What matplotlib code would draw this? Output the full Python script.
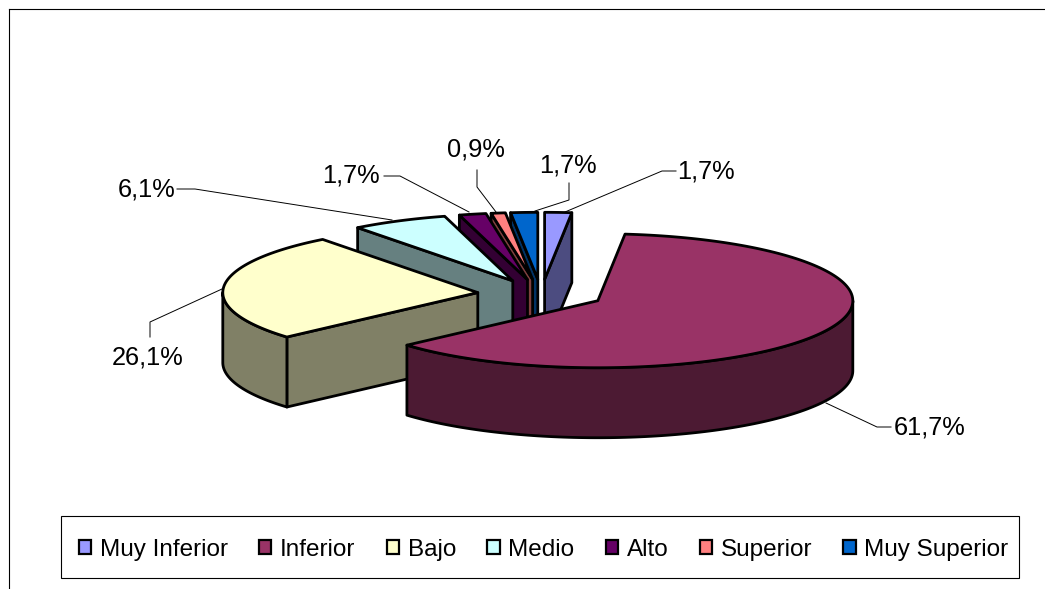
import numpy as np
import matplotlib
matplotlib.use("Agg")
import matplotlib.pyplot as plt
from matplotlib.patches import Polygon, Patch, Rectangle

plt.rcParams['font.family'] = ['Liberation Sans', 'DejaVu Sans']

categories = ["Muy Inferior", "Inferior", "Bajo", "Medio", "Alto", "Superior", "Muy Superior"]
values = [1.7, 61.7, 26.1, 6.1, 1.7, 0.9, 1.7]
labels = ["1,7%", "61,7%", "26,1%", "6,1%", "1,7%", "0,9%", "1,7%"]
top_colors = ["#9999FF", "#993366", "#FFFFCC", "#CCFFFF", "#660066", "#FF8080", "#0066CC"]
side_colors = ["#4C4C80", "#4C1A33", "#808066", "#668080", "#330033", "#804040", "#003366"]

# layout (pixels)
W, H = 1045, 589
CX, CY = 541.2, 294.0
RX, RY = 255.0, 67.0
DEPTH = 70.0
EXPLODE_X, EXPLODE_Y = 63.7, 14.7
DRAW_ORDER = [0, 6, 5, 4, 3, 2, 1]
LW = 2.0
label_pos = [(677, 172), (894, 427), (112, 358), (118, 190), (322, 176), (447, 150), (539, 165)]
leaders = [
    [(676, 171), (662, 171), (565, 212)],
    [(826, 403), (877, 427), (891, 427)],
    [(222, 289), (150, 322), (150, 337)],
    [(177, 189), (195, 189), (392, 220)],
    [(384, 176), (400, 176), (469, 212)],
    [(477, 170), (477, 187), (496, 212)],
    [(569, 183), (569, 200), (535, 211)],
]

fig = plt.figure(figsize=(W / 100, H / 100), dpi=100)
ax = fig.add_axes([0, 0, 1, 1])
ax.set_xlim(0, W)
ax.set_ylim(H, 0)
ax.axis("off")

# chart frame runs off the right and bottom of the image
ax.plot([8.7, 8.7], [H, 8.7], color="black", lw=0.8)
ax.plot([8.7, W], [8.7, 8.7], color="black", lw=0.8)

vals = np.array(values)
bounds = np.concatenate([[0], np.cumsum(vals)]) / vals.sum() * 2 * np.pi


def rim(cx, cy, t, dz=0.0):
    return np.column_stack([cx + RX * np.sin(t), cy - RY * np.cos(t) + dz])


for i in DRAW_ORDER:
    t1, t2 = bounds[i], bounds[i + 1]
    mid = (t1 + t2) / 2
    cx = CX + EXPLODE_X * np.sin(mid)
    cy = CY - EXPLODE_Y * np.cos(mid)
    kw = dict(closed=True, edgecolor="black", lw=LW, joinstyle="round", facecolor=side_colors[i])

    # radial faces, when they look towards the viewer
    for t, normal in ((t1, t1 - np.pi / 2), (t2, t2 + np.pi / 2)):
        if np.cos(normal) < 0:
            a = rim(cx, cy, np.array([t]))[0]
            ax.add_patch(Polygon([(cx, cy), a, (a[0], a[1] + DEPTH), (cx, cy + DEPTH)], **kw))

    # outer wall, only the part facing the viewer
    lo, hi = max(t1, np.pi / 2), min(t2, 3 * np.pi / 2)
    if hi > lo:
        t = np.linspace(lo, hi, 120)
        ax.add_patch(Polygon(np.vstack([rim(cx, cy, t), rim(cx, cy, t[::-1], DEPTH)]), **kw))

    # top face
    t = np.linspace(t1, t2, 160)
    pts = np.vstack([[(cx, cy)], rim(cx, cy, t)])
    ax.add_patch(Polygon(pts, closed=True, edgecolor="black", lw=LW, joinstyle="round",
                         facecolor=top_colors[i]))

for i, pts in enumerate(leaders):
    xs, ys = zip(*pts)
    ax.plot(xs, ys, color="black", lw=0.7, solid_joinstyle="miter")
    ax.text(*label_pos[i], labels[i], fontsize=18.3, ha="left", va="center", color="black")

# legend box with its thin shadow
ax.add_patch(Rectangle((61.8, 516.8), 958, 62, facecolor="#808080", edgecolor="none", zorder=4))
ax.add_patch(Rectangle((60.8, 515.8), 958, 62, facecolor="white", edgecolor="black", lw=0.8, zorder=4))

handles = [Patch(facecolor=c, edgecolor="black", lw=1.6) for c in top_colors]
leg = ax.legend(handles, categories, ncols=7, loc="center left", bbox_to_anchor=(79, 550),
                bbox_transform=ax.transData, fontsize=17.5, frameon=False, borderpad=0,
                handlelength=0.5, handleheight=0.5, handletextpad=0.36, columnspacing=1.288,
                borderaxespad=0, labelspacing=0)
leg.set_zorder(5)
leg._legend_box.align = "top"

fig.savefig("out.png", dpi=100, facecolor="white")
